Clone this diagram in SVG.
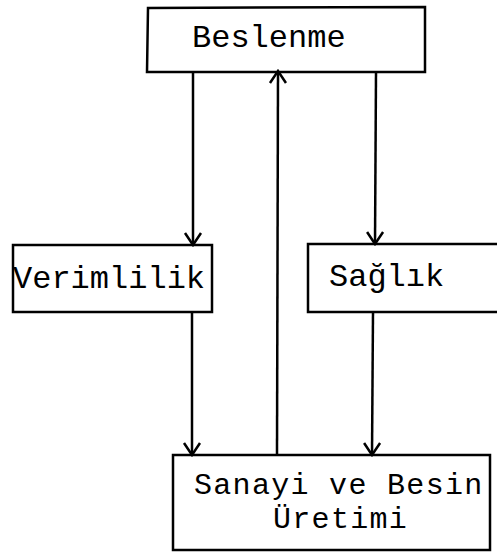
<svg xmlns="http://www.w3.org/2000/svg" width="497" height="552" viewBox="0 0 497 552">
<style>
.box{fill:none;stroke:#000;stroke-width:2.5}
.t{font-family:"Liberation Mono","Courier New",monospace;font-size:32px;fill:#000}
.s{font-size:30px;letter-spacing:1.3px}
.c{fill:none;stroke:#000;stroke-width:2.5}
</style>
<defs>
<marker id="ah" viewBox="0 0 20 20" refX="18" refY="10" markerWidth="20" markerHeight="20" markerUnits="userSpaceOnUse" orient="auto">
<path d="M6,2 L18,10 L6,18" fill="none" stroke="#000" stroke-width="2.5"/>
</marker>
</defs>
<rect width="497" height="552" fill="#fff"/>
<g id="beslenme">
<path class="box" d="M147,72 L148,8 L425,7 L425,72 Z"/>
<text class="t" x="192" y="47">Beslenme</text>
</g>
<g id="verimlilik">
<rect class="box" x="13" y="245" width="199" height="67"/>
<text class="t" x="13" y="288">Verimlilik</text>
</g>
<g id="saglik">
<path class="box" d="M497,244 L308,244 L308,312 L497,312"/>
<text class="t" x="329" y="286">Sağlık</text>
</g>
<g id="sanayi">
<rect class="box" x="173" y="455" width="317" height="95"/>
<text class="t s" x="194" y="494">Sanayi ve Besin</text>
<text class="t s" x="273" y="528">Üretimi</text>
</g>
<g id="connectors">
<line class="c" x1="193" y1="72" x2="193" y2="245" marker-end="url(#ah)"/>
<line class="c" x1="376" y1="72" x2="375" y2="244" marker-end="url(#ah)"/>
<line class="c" x1="277" y1="455" x2="278" y2="71" marker-end="url(#ah)"/>
<line class="c" x1="192" y1="312" x2="192" y2="455" marker-end="url(#ah)"/>
<line class="c" x1="373" y1="312" x2="372" y2="455" marker-end="url(#ah)"/>
</g>
</svg>
